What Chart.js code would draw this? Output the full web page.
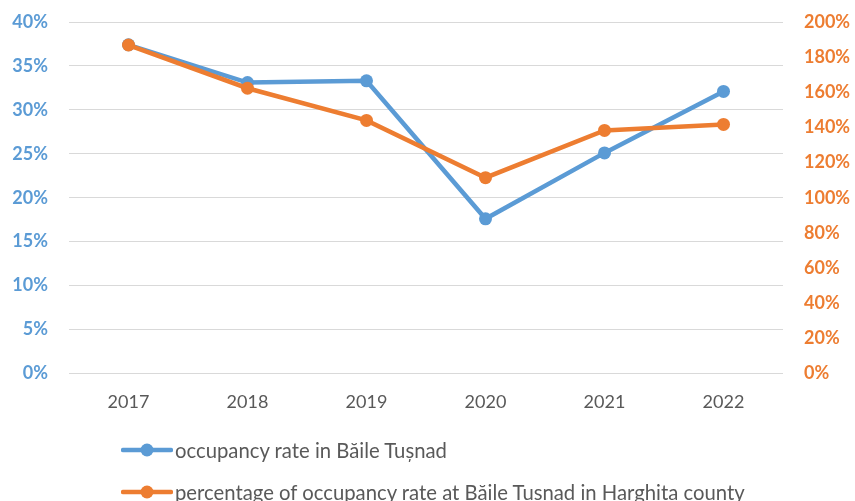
<!DOCTYPE html>
<html>
<head>
<meta charset="utf-8">
<script src="https://cdn.jsdelivr.net/npm/chart.js@4/dist/chart.umd.min.js"></script>
<style>
  html, body { margin: 0; padding: 0; background: #fff; }
  #wrap { position: relative; width: 855px; height: 501px; overflow: hidden; font-family: Lato, "Open Sans", sans-serif; }
  #c { position: absolute; left: 0; top: 0; }
  .leg { position: absolute; left: 121px; display: flex; align-items: center; font-size: 20.3px; color: #595959; white-space: nowrap; line-height: 24px; }
  .leg svg { margin-right: 2px; }
</style>
</head>
<body>
<div id="wrap">
  <canvas id="c" width="855" height="501"></canvas>
  <div class="leg" id="leg1" style="top:438px"></div>
  <div class="leg" id="leg2" style="top:480px"></div>
</div>
<script>
const years = ['2017', '2018', '2019', '2020', '2021', '2022'];
const occupancyTusnad = [37.4, 33.1, 33.3, 17.6, 25.1, 32.1];
const shareOfHarghita = [186.9, 162.3, 144.0, 111.4, 138.3, 141.7];
const leftTicks = [0, 5, 10, 15, 20, 25, 30, 35, 40];
const rightTicks = [0, 20, 40, 60, 80, 100, 120, 140, 160, 180, 200];
const seriesNames = ['occupancy rate in Băile Tușnad', 'percentage of occupancy rate at Băile Tușnad in Harghita county'];

const BLUE = '#5B9BD5';
const ORANGE = '#ED7D31';

function marker(color) {
  return '<svg width="52" height="16" viewBox="0 0 52 16"><line x1="2" y1="8" x2="50" y2="8" stroke="' + color + '" stroke-width="4.5" stroke-linecap="round"/><circle cx="26" cy="8" r="6.5" fill="' + color + '"/></svg>';
}
document.getElementById('leg1').innerHTML = marker(BLUE) + '<span>' + seriesNames[0] + '</span>';
document.getElementById('leg2').innerHTML = marker(ORANGE) + '<span>' + seriesNames[1] + '</span>';

function fitY(width) {
  return s => { s.width = width; s.paddingTop = 0; s.paddingBottom = 0; };
}

new Chart(document.getElementById('c'), {
  type: 'line',
  data: {
    labels: years,
    datasets: [
      {
        label: seriesNames[0], data: occupancyTusnad, yAxisID: 'yL', order: 1,
        borderColor: BLUE, backgroundColor: BLUE, borderWidth: 4.5,
        pointRadius: 6.5, pointBorderWidth: 0, pointBackgroundColor: BLUE, tension: 0
      },
      {
        label: seriesNames[1], data: shareOfHarghita, yAxisID: 'yR', order: 0,
        borderColor: ORANGE, backgroundColor: ORANGE, borderWidth: 4.5,
        pointRadius: 6.5, pointBorderWidth: 0, pointBackgroundColor: ORANGE, tension: 0
      }
    ]
  },
  options: {
    responsive: false,
    animation: false,
    layout: { padding: { top: 22, bottom: 78, left: 0, right: 0 } },
    plugins: { legend: { display: false }, tooltip: { enabled: false } },
    scales: {
      x: {
        offset: true,
        grid: { display: false },
        border: { display: false },
        ticks: { color: '#595959', font: { family: 'Lato', size: 18 }, padding: 10 }
      },
      yL: {
        position: 'left', min: 0, max: 40,
        afterFit: fitY(69),
        afterBuildTicks: s => { s.ticks = leftTicks.map(v => ({ value: v })); },
        grid: { color: '#D9D9D9', lineWidth: 1, drawTicks: false },
        border: { display: false },
        ticks: { color: BLUE, font: { family: 'Lato', size: 18, weight: 'bold' }, padding: 21, callback: v => v + '%' }
      },
      yR: {
        position: 'right', min: 0, max: 200,
        afterFit: fitY(72),
        afterBuildTicks: s => { s.ticks = rightTicks.map(v => ({ value: v })); },
        grid: { display: false, drawTicks: false },
        border: { display: false },
        ticks: { color: ORANGE, font: { family: 'Lato', size: 18, weight: 'bold' }, padding: 21, callback: v => v + '%' }
      }
    }
  }
});
</script>
</body>
</html>
